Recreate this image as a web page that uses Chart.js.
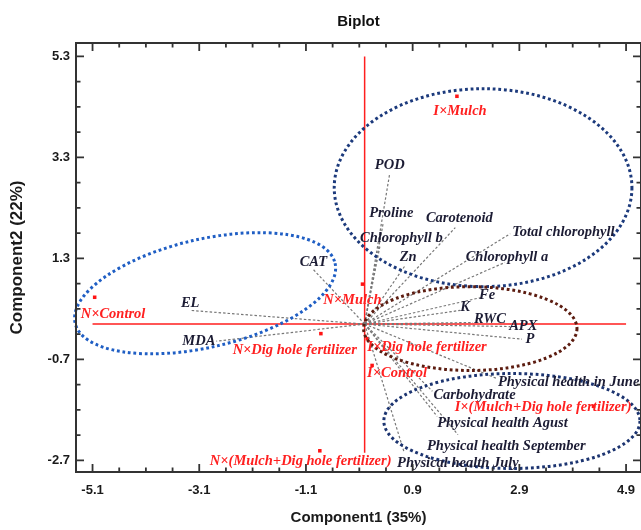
<!DOCTYPE html>
<html>
<head>
<meta charset="utf-8">
<script src="https://cdn.jsdelivr.net/npm/chart.js@4.4.1/dist/chart.umd.min.js"></script>
<style>
html, body { margin: 0; padding: 0; background: #fff; }
#wrap { width: 641px; height: 530px; }
</style>
</head>
<body>
<div id="wrap"><canvas id="biplot"></canvas></div>
<script>
const xTicks = [-5.1, -3.1, -1.1, 0.9, 2.9, 4.9];
const yTicks = [-2.7, -0.7, 1.3, 3.3, 5.3];

// treatment scores
const treatments = ["I×Mulch", "N×Control", "N×Dig hole fertilizer", "N×(Mulch+Dig hole fertilizer)",
  "N×Mulch", "I×Dig hole fertilizer", "I×Control", "I×(Mulch+Dig hole fertilizer)"];
const treatPC1 = [1.73, -5.06, -0.82, -0.84, -0.04, 0.05, 0.14, 4.29];
const treatPC2 = [4.51, 0.53, -0.19, -2.51, 0.79, -0.29, -0.82, -1.63];

// variable loadings
const variables = ["POD", "Proline", "Chlorophyll b", "Carotenoid", "Zn", "Total chlorophyll", "Chlorophyll a",
  "Fe", "K", "RWC", "APX", "P", "Physical health in June", "Carbohydrate", "Physical health Agust",
  "Physical health September", "Physical health July", "CAT", "EL", "MDA"];
const varPC1 = [0.47, 0.35, 0.29, 1.70, 0.76, 2.73, 2.63, 2.20, 1.79, 2.03, 2.73, 2.95, 2.48, 1.27, 1.36, 1.75, 0.74, -0.98, -3.27, -2.78];
const varPC2 = [2.98, 2.01, 1.56, 1.91, 1.16, 1.79, 1.22, 0.53, 0.27, 0.03, -0.05, -0.30, -1.08, -1.33, -1.83, -2.19, -2.54, 1.10, 0.27, -0.34];

// label placement: [align, dx, dy] in pixels from the mark
const treatLabelPos = [["center", 3, 15], ["left", -14, 17], ["right", 36, 17], ["left", -110, 10],
  ["right", 19, 16], ["left", 0, 9], ["left", -5, 8], ["right", 38, 1]];
const varLabelPos = [["center", 0, -8], ["center", 8, -9], ["left", -20, -7], ["center", 4, -9], ["center", 3, -8],
  ["left", 2, -1], ["center", 2, -5], ["center", 5, -2], ["center", 5, -3], ["center", 17, -3], ["center", 13, 0],
  ["center", 8, 0], ["left", 1, 4], ["left", 1, 4], ["left", 0, 7], ["left", -31, 12], ["left", -7, 11],
  ["center", 1, -6], ["center", 0, -7], ["right", -1, 0]];

// group ellipses (centre in data units, radii in axis units, tilt in degrees)
const groups = [
  { cx: 2.22, cy: 2.70, rx: 2.79, ry: 1.96, tilt: 0, color: "#1c3a7c" },
  { cx: -2.99, cy: 0.61, rx: 2.50, ry: 1.07, tilt: 13, color: "#1f5ec4" },
  { cx: 1.98, cy: -0.09, rx: 2.00, ry: 0.83, tilt: 0, color: "#5c1c10" },
  { cx: 2.76, cy: -1.92, rx: 2.40, ry: 0.94, tilt: 0, color: "#1c3470" }
];

const serif = "'Liberation Serif', 'DejaVu Serif', serif";
const sans = "'Liberation Sans', Arial, sans-serif";

const decor = {
  id: "decor",
  beforeDatasetsDraw(chart) {
    const { ctx, scales: { x, y } } = chart;
    ctx.save();
    ctx.strokeStyle = "#ff1f1f";
    ctx.lineWidth = 1.5;
    ctx.beginPath();
    ctx.moveTo(x.getPixelForValue(xTicks[0]), y.getPixelForValue(0));
    ctx.lineTo(x.getPixelForValue(xTicks[xTicks.length - 1]), y.getPixelForValue(0));
    ctx.moveTo(x.getPixelForValue(0), y.getPixelForValue(yTicks[yTicks.length - 1]));
    ctx.lineTo(x.getPixelForValue(0), y.getPixelForValue(-2.55));
    ctx.stroke();
    ctx.restore();
  },
  afterDatasetsDraw(chart) {
    const { ctx, scales: { x, y } } = chart;
    const ux = x.getPixelForValue(1) - x.getPixelForValue(0);
    const uy = y.getPixelForValue(0) - y.getPixelForValue(1);
    ctx.save();
    groups.forEach(g => {
      ctx.beginPath();
      ctx.ellipse(x.getPixelForValue(g.cx), y.getPixelForValue(g.cy), g.rx * ux, g.ry * uy,
        -g.tilt * Math.PI / 180, 0, Math.PI * 2);
      ctx.strokeStyle = g.color;
      ctx.lineWidth = 3;
      ctx.setLineDash([2.8, 2.8]);
      ctx.stroke();
    });
    ctx.setLineDash([]);
    ctx.textBaseline = "middle";
    ctx.font = "italic bold 14.5px " + serif;
    ctx.fillStyle = "#1c1c34";
    variables.forEach((name, i) => {
      const [al, dx, dy] = varLabelPos[i];
      ctx.textAlign = al;
      ctx.fillText(name, x.getPixelForValue(varPC1[i]) + dx, y.getPixelForValue(varPC2[i]) + dy);
    });
    ctx.fillStyle = "#ff2020";
    treatments.forEach((name, i) => {
      const [al, dx, dy] = treatLabelPos[i];
      ctx.textAlign = al;
      ctx.fillText(name, x.getPixelForValue(treatPC1[i]) + dx, y.getPixelForValue(treatPC2[i]) + dy);
    });
    ctx.restore();
  },
  afterDraw(chart) {
    const { ctx, chartArea: a, scales: { x, y } } = chart;
    ctx.save();
    ctx.strokeStyle = "#333";
    ctx.lineWidth = 2;
    ctx.strokeRect(a.left, a.top, a.right - a.left, a.bottom - a.top);
    const marks = (ticks) => {
      const out = [];
      ticks.forEach((v, i) => {
        out.push([v, 8]);
        if (i < ticks.length - 1) {
          const step = (ticks[i + 1] - v) / 4;
          for (let k = 1; k < 4; k++) out.push([v + step * k, 4.5]);
        }
      });
      return out;
    };
    ctx.lineWidth = 1.8;
    ctx.beginPath();
    marks(xTicks).forEach(([v, len]) => {
      const px = x.getPixelForValue(v);
      ctx.moveTo(px, a.bottom); ctx.lineTo(px, a.bottom - len);
      ctx.moveTo(px, a.top); ctx.lineTo(px, a.top + len);
    });
    marks(yTicks).forEach(([v, len]) => {
      const py = y.getPixelForValue(v);
      ctx.moveTo(a.left, py); ctx.lineTo(a.left + len, py);
      ctx.moveTo(a.right, py); ctx.lineTo(a.right - len, py);
    });
    ctx.stroke();
    ctx.restore();
  }
};

const loadingSets = variables.map((name, i) => ({
  label: name,
  data: [{ x: 0, y: 0 }, { x: varPC1[i], y: varPC2[i] }],
  showLine: true,
  borderColor: "#777",
  borderWidth: 1.2,
  borderDash: [2.5, 2],
  pointRadius: 0
}));

new Chart(document.getElementById("biplot"), {
  type: "scatter",
  data: {
    datasets: [
      ...loadingSets,
      {
        label: "Treatments",
        data: treatPC1.map((v, i) => ({ x: v, y: treatPC2[i] })),
        pointStyle: "rect",
        pointRadius: 2.5,
        backgroundColor: "#ff1414",
        borderWidth: 0
      }
    ]
  },
  options: {
    responsive: true,
    maintainAspectRatio: false,
    animation: false,
    layout: { padding: 0, autoPadding: false },
    plugins: {
      legend: { display: false },
      tooltip: { enabled: false },
      title: {
        display: true,
        text: "Biplot",
        fullSize: false,
        color: "#111",
        font: { family: sans, size: 15, weight: "bold" },
        padding: { top: 13, bottom: 12 }
      }
    },
    scales: {
      x: {
        type: "linear",
        min: -5.41,
        max: 5.18,
        grid: { display: false, drawTicks: false },
        border: { display: false },
        afterBuildTicks: s => { s.ticks = xTicks.map(v => ({ value: v })); },
        afterFit: s => { s.height = 58; s.paddingLeft = 0; s.paddingRight = 0; },
        ticks: {
          padding: 11, autoSkip: false, maxRotation: 0, color: "#1a1a1a",
          font: { family: sans, size: 13, weight: "bold" },
          callback: v => v.toFixed(1)
        },
        title: {
          display: true, text: "Component1 (35%)", color: "#1a1a1a",
          font: { family: sans, size: 15, weight: "bold" },
          padding: { top: 0, bottom: 3 }
        }
      },
      y: {
        type: "linear",
        min: -2.93,
        max: 5.565,
        grid: { display: false, drawTicks: false },
        border: { display: false },
        afterBuildTicks: s => { s.ticks = yTicks.map(v => ({ value: v })); },
        afterFit: s => { s.width = 76; s.paddingTop = 0; s.paddingBottom = 0; },
        ticks: {
          padding: 6, autoSkip: false, color: "#1a1a1a",
          font: { family: sans, size: 13, weight: "bold" },
          callback: v => v.toFixed(1)
        },
        title: {
          display: true, text: "Component2 (22%)", color: "#1a1a1a",
          font: { family: sans, size: 17, weight: "bold" },
          padding: { top: 7, bottom: 0 }
        }
      }
    }
  },
  plugins: [decor]
});
</script>
</body>
</html>
